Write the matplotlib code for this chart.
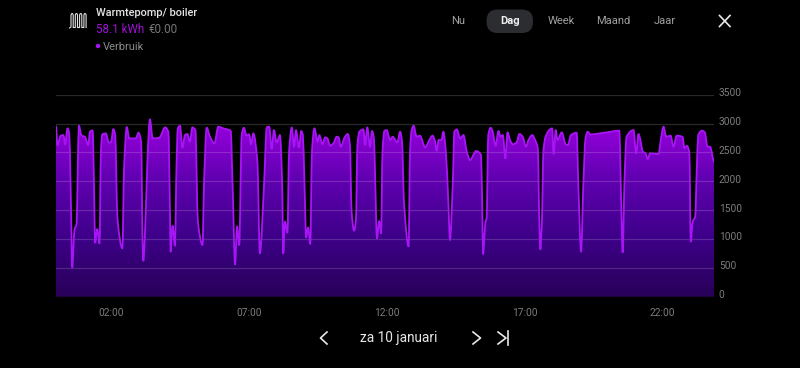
import matplotlib
matplotlib.use('Agg')
import matplotlib.pyplot as plt
import numpy as np
from matplotlib.colors import LinearSegmentedColormap
from matplotlib.patches import FancyBboxPatch, Circle, PathPatch
from matplotlib.path import Path
from matplotlib.transforms import ScaledTranslation

plt.rcParams['font.family'] = ['Roboto', 'DejaVu Sans']

# uren sinds middernacht
hours = [0.00, 0.05, 0.17, 0.27, 0.33, 0.42, 0.48, 0.53, 0.59, 0.67, 0.75, 0.79, 0.83, 0.93, 1.05, 1.17, 1.23, 1.33,
         1.38, 1.42, 1.50, 1.58, 1.63, 1.68, 1.81, 1.92, 2.00, 2.08, 2.15, 2.23, 2.41, 2.47, 2.57, 2.66, 2.90, 2.99,
         3.09, 3.15, 3.17, 3.27, 3.33, 3.41, 3.51, 3.75, 3.96, 4.08, 4.14, 4.16, 4.23, 4.32, 4.36, 4.42, 4.50, 4.59,
         4.68, 4.77, 4.86, 4.95, 5.06, 5.15, 5.32, 5.37, 5.47, 5.59, 5.75, 5.89, 6.07, 6.34, 6.41, 6.50, 6.57, 6.65,
         6.74, 6.82, 6.92, 7.01, 7.08, 7.16, 7.31, 7.40, 7.55, 7.65, 7.74, 7.83, 7.91, 8.01, 8.13, 8.21, 8.25, 8.31,
         8.40, 8.46, 8.56, 8.64, 8.71, 8.82, 8.90, 8.96, 9.02, 9.08, 9.15, 9.23, 9.29, 9.38, 9.50, 9.56, 9.67, 9.77,
         9.85, 9.95, 10.07, 10.19, 10.26, 10.33, 10.49, 10.59, 10.67, 10.73, 10.82, 10.89, 10.94, 11.01, 11.16, 11.22,
         11.30, 11.40, 11.47, 11.54, 11.59, 11.65, 11.73, 11.80, 11.85, 11.92, 12.00, 12.13, 12.22, 12.39, 12.49,
         12.56, 12.63, 12.80, 12.85, 12.91, 12.98, 13.09, 13.21, 13.40, 13.55, 13.67, 13.76, 13.82, 13.89, 13.99,
         14.06, 14.15, 14.24, 14.30, 14.40, 14.46, 14.55, 14.67, 14.79, 14.91, 15.03, 15.25, 15.42, 15.47, 15.50,
         15.59, 15.63, 15.69, 15.78, 15.85, 15.96, 16.06, 16.14, 16.22, 16.31, 16.39, 16.48, 16.58, 16.72, 16.82,
         16.94, 17.06, 17.15, 17.29, 17.39, 17.49, 17.54, 17.58, 17.64, 17.69, 17.77, 17.93, 18.01, 18.06, 18.14,
         18.20, 18.36, 18.50, 18.58, 18.69, 18.90, 18.96, 19.06, 19.14, 19.22, 19.30, 19.39, 19.99, 20.45, 20.50,
         20.57, 20.63, 20.71, 20.96, 21.06, 21.14, 21.20, 21.30, 21.40, 21.48, 21.56, 21.87, 21.96, 22.05, 22.15,
         22.31, 22.41, 22.53, 22.74, 22.81, 22.90, 22.99, 23.04, 23.11, 23.20, 23.26, 23.31, 23.45, 23.55, 23.65,
         23.74, 23.89]

# verbruik in watt
watts = [2963, 2628, 2790, 2800, 2640, 2917, 2830, 1935, 508, 1155, 1270, 2224, 2963, 2790, 2772, 2628, 2859, 2882,
         1935, 936, 1172, 924, 2512, 2813, 2830, 2668, 2686, 2905, 2800, 1357, 837, 2224, 2940, 2743, 2743, 2842,
         2686, 780, 624, 1646, 2512, 3073, 2743, 2755, 2934, 2859, 1357, 780, 1230, 884, 1935, 2917, 2963, 2582,
         2801, 2819, 2686, 2934, 2888, 1300, 895, 1935, 2928, 2772, 2657, 2946, 2917, 2877, 1935, 560, 1219, 895,
         2801, 2928, 2790, 2813, 2640, 2830, 2339, 751, 1935, 2934, 2946, 2559, 2888, 2674, 2801, 1935, 751, 1300,
         1109, 2513, 2934, 2599, 2888, 2588, 2871, 2801, 1935, 1028, 1201, 913, 2513, 2917, 2686, 2801, 2645, 2761,
         2744, 2617, 2657, 2772, 2761, 2599, 2772, 2819, 2628, 1473, 1144, 1357, 2628, 2859, 2900, 2628,
         2934, 2599, 2871, 2744, 1935, 1011, 1311, 1097, 2513, 2871, 2888, 2715, 2772, 2674, 2859,
         2686, 1646, 872, 2513, 2888, 2963, 2772, 2790, 2588, 2715, 2790, 2686, 2530, 2715, 2715,
         2859, 2513, 1646, 982, 1935, 2859, 2900, 2744, 2801, 2513, 2368, 2524, 2466, 1646, 739,
         1300, 1357, 2801, 2928, 2859, 2617, 2871, 2772, 2801, 2397, 2848, 2715, 2640, 2674, 2819,
         2772, 2599, 2715, 2801, 2715, 2570, 1357, 820, 1357, 2513, 2772, 2900, 2917, 2472, 2888,
         2715, 2848, 2640, 2628, 2801, 2842, 1935, 780, 1935, 2744, 2859, 2813, 2848, 2877, 1935,
         768, 1935, 2772, 2888, 2484, 2819, 2744, 2513, 2484, 2385, 2484, 2472, 2744, 2946, 2772,
         2790, 2599, 2790, 2772, 2570, 2617, 2484, 953, 1300, 1386, 2224, 2801, 2877, 2848, 2599,
         2599, 2339]

y_ticks = [0, 500, 1000, 1500, 2000, 2500, 3000, 3500]
x_ticks = [2, 7, 12, 17, 22]
x_labels = ['02:00', '07:00', '12:00', '17:00', '22:00']
periods = ['Nu', 'Dag', 'Week', 'Maand', 'Jaar']
period_x = [458, 510, 561, 613.5, 665]


def smooth_path(xs, ys):
    # bezier curve door de punten, zonder overshoot (monotone raaklijnen)
    xs = np.asarray(xs, dtype=float)
    ys = np.asarray(ys, dtype=float)
    dx = np.diff(xs)
    sec = np.diff(ys) / dx
    m = np.zeros(len(xs))
    for i in range(1, len(xs) - 1):
        if sec[i - 1] * sec[i] > 0:
            m[i] = 2 * sec[i - 1] * sec[i] / (sec[i - 1] + sec[i])
    verts = [(xs[0], ys[0])]
    codes = [Path.MOVETO]
    for i in range(len(dx)):
        verts += [(xs[i] + dx[i] / 3, ys[i] + m[i] * dx[i] / 3),
                  (xs[i + 1] - dx[i] / 3, ys[i + 1] - m[i + 1] * dx[i] / 3),
                  (xs[i + 1], ys[i + 1])]
        codes += [Path.CURVE4] * 3
    return verts, codes


W, H = 800, 368
fig = plt.figure(figsize=(W / 100, H / 100), dpi=100, facecolor='black')

# grafiek
left, right, top, bottom = 56, 714, 94.7, 296.7
x_max = (right - left) / 27.55
ax = fig.add_axes([left / W, 1 - bottom / H, (right - left) / W, (bottom - top) / H], facecolor='black')

verts, codes = smooth_path(hours, watts)
area = Path(verts + [(hours[-1], 0), (hours[0], 0), (hours[0], watts[0])],
            codes + [Path.LINETO, Path.LINETO, Path.CLOSEPOLY])

cmap = LinearSegmentedColormap.from_list('paars', ['#280058', '#3d0088', '#6000b0', '#9a00e0'])
grad = np.linspace(1, 0, 256).reshape(-1, 1)
im = ax.imshow(grad, extent=[0, x_max, 0, 3050], aspect='auto', cmap=cmap, vmin=0, vmax=1, zorder=1)
im.set_clip_path(area, transform=ax.transData)

ax.add_patch(PathPatch(Path(verts, codes), fc='none', ec='#a815f5', lw=1.3, zorder=3, joinstyle='round'))
ax.set_xlim(0, x_max)
ax.set_ylim(0, 3500)

for t in y_ticks:
    ax.axhline(t, color='#ffffff', alpha=0.16, lw=0.9, zorder=2)

for s in ax.spines.values():
    s.set_visible(False)
ax.set_yticks(y_ticks)
ax.set_xticks(x_ticks)
ax.set_xticklabels(x_labels)
ax.yaxis.tick_right()
ax.tick_params(axis='y', length=0, pad=3.5, labelsize=7.3, labelcolor='#7c7c7c')
ax.tick_params(axis='x', length=0, pad=8, labelsize=7.3, labelcolor='#7c7c7c')
# labels staan iets boven de lijn
shift = ScaledTranslation(0, 2.5 / 100, fig.dpi_scale_trans)
for lab in ax.get_yticklabels():
    lab.set_transform(lab.get_transform() + shift)

# kop en knoppen
ov = fig.add_axes([0, 0, 1, 1], facecolor='none')
ov.set_xlim(0, W)
ov.set_ylim(H, 0)
ov.axis('off')

ov.text(96, 13.5, 'Warmtepomp/ boiler', color='#e4e4e4', fontsize=7.9, fontweight='medium', va='center')
ov.text(96, 29.5, '58.1 kWh', color='#a010d8', fontsize=8.4, va='center')
ov.text(149, 29.5, '€0.00', color='#777777', fontsize=8.4, va='center')
ov.add_patch(Circle((98, 46), 2.2, color='#a815f5', lw=0))
ov.text(103, 46.5, 'Verbruik', color='#8a8a8a', fontsize=8, va='center')

# radiator icoon
icon_x = [69.5, 71]
icon_y = [28, 27]
for i in range(4):
    x0 = 71 + i * 4.3
    icon_x += [x0, x0 + 0.6, x0 + 1.6, x0 + 2.2, x0 + 2.2, x0 + 4.3]
    icon_y += [15, 13.6, 13.6, 15, 27.5, 27.5]
icon_x[-1] = 88
icon_y[-1] = 28
ov.plot(icon_x[:-1], icon_y[:-1], color='#e0e0e0', lw=0.8)

pill = FancyBboxPatch((486.5, 9.5), 46.5, 23.5, boxstyle='round,pad=0,rounding_size=11', fc='#2b2d31', ec='none')
ov.add_patch(pill)
for name, x in zip(periods, period_x):
    active = name == 'Dag'
    ov.text(x, 21.5, name, ha='center', va='center', fontsize=8, color='#f0f0f0' if active else '#a0a0a0',
            fontweight='bold' if active else 'normal')

ov.plot([719.5, 730], [15.5, 26.5], color='#e8e8e8', lw=1.2)
ov.plot([719.5, 730], [26.5, 15.5], color='#e8e8e8', lw=1.2)

# datum navigatie
ov.text(399, 338, 'za 10 januari', color='#e8e8e8', fontsize=9.8, ha='center', va='center')
ov.plot([327, 320.5, 327], [332, 338, 344], color='#e8e8e8', lw=1.2)
ov.plot([473, 480.5, 473], [332, 338, 344], color='#e8e8e8', lw=1.2)
ov.plot([498, 506, 498], [332, 338, 344], color='#e8e8e8', lw=1.2)
ov.plot([507.5, 507.5], [331, 345], color='#e8e8e8', lw=1.2)

fig.savefig('out.png', dpi=100, facecolor='black')
